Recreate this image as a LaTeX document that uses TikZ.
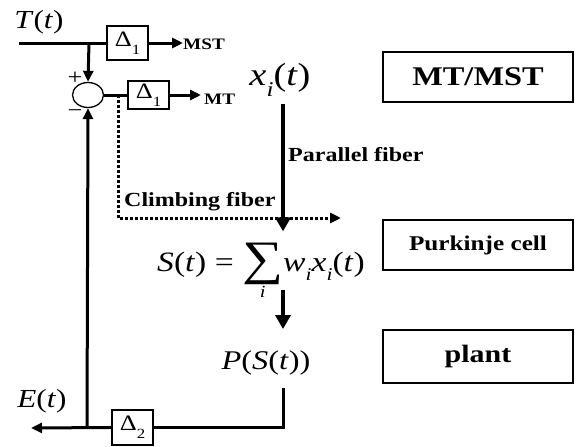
\documentclass[tikz,border=0pt]{standalone}
\usepackage{fontspec}
\setmainfont{Liberation Serif}[FakeStretch=1.2]
\usetikzlibrary{arrows.meta,shapes.geometric}
\newcommand\setfs[1]{\fontsize{#1}{#1}\selectfont}
\newcommand\lowsub[2]{\raisebox{-0.35em}{\setfs{#1}#2}}

\begin{document}
\begin{tikzpicture}[x=1pt, y=-1pt,
    sig/.style={line width=3pt},
    fiber/.style={line width=4.6pt},
    dots/.style={line width=3pt, dash pattern=on 2.6pt off 2.4pt},
    tip/.style={-{Triangle[length=11pt,width=10pt]}},
    bigtip/.style={-{Triangle[length=14pt,width=15pt]}},
    dbox/.style={draw, line width=1.3pt, minimum width=41pt, inner sep=0pt, font=\setfs{22}},
    unitbox/.style={draw, line width=1.3pt, minimum width=190pt, minimum height=50pt, inner sep=0pt, font=\bfseries},
    lbl/.style={inner sep=0pt, font=\bfseries\setfs{20}},
    mathlbl/.style={inner sep=0pt}
]
    \useasboundingbox (0,0) rectangle (579,447);
    % loop: input, comparison and delays
    \node[mathlbl, font=\setfs{26}] (T) at (39,22) {\textit{T}(\textit{t})};
    \coordinate (tin) at (19,43);
    \coordinate (tb) at (89,43);
    \node[ellipse, draw, line width=1.3pt, minimum width=31pt, minimum height=25pt, inner sep=0pt] (sumj) at (88,95) {};
    \node[inner sep=0pt, font=\setfs{22}] (plus) at (75,78) {+};
    \node[inner sep=0pt, font=\setfs{22}] (minus) at (75,114) {−};
    \node[dbox, minimum height=34pt] (d1a) at (127.5,43) {Δ\lowsub{14}{1}};
    \node[lbl, font=\bfseries\setfs{16}, anchor=west] (mst) at (183,44) {MST};
    \node[dbox, minimum height=28pt] (d1b) at (148.5,95) {Δ\lowsub{14}{1}};
    \node[lbl, font=\bfseries\setfs{16}, anchor=west] (mt) at (204,99) {MT};
    \coordinate (cf) at (118,95);
    \coordinate (cfend) at (341,218);
    % cerebellum
    \node[mathlbl, font=\setfs{32}] (xi) at (280,80) {\textit{x}\lowsub{21}{\itshape i}(\textit{t})};
    \node[lbl, anchor=base west] (pf) at (288,161) {Parallel fiber};
    \node[lbl, anchor=base west] (cfl) at (124,206) {Climbing fiber};
    \node[mathlbl, font=\setfs{28}, anchor=base west] (seq) at (157,271)
        {\textit{S}(\textit{t}) = $\mathop{\raisebox{-3pt}{\setfs{48}∑}}\limits_{\hbox{\setfs{17}\itshape i}}$\textit{w}\lowsub{18}{\itshape i}\textit{x}\lowsub{18}{\itshape i}(\textit{t})};
    \coordinate (pkout) at (283,290);
    \node[mathlbl, font=\setfs{27}, anchor=base] (P) at (266,369) {\textit{P}(\textit{S}(\textit{t}))};
    % feedback
    \node[mathlbl, font=\setfs{26}] (E) at (42,401) {\textit{E}(\textit{t})};
    \node[dbox, minimum height=35pt] (d2) at (132.5,427.5) {Δ\lowsub{14}{2}};
    \coordinate (eout) at (31,428);
    \coordinate (fb) at (87,428);
    % blocks on the right
    \node[unitbox, font=\bfseries\setfs{27}] (mtmst) at (478,77) {MT/MST};
    \node[unitbox, font=\bfseries\setfs{21}] (purk) at (478,245) {Purkinje cell};
    \node[unitbox, minimum height=53pt, font=\bfseries\setfs{25}] (plant) at (478,356.5) {plant};

    \draw[sig] (tin) -- (d1a.west);
    \draw[sig, tip] (tb) -- (sumj.north);
    \draw[sig, tip] (d1a.east) -- (d1a.east -| mst.west);
    \draw[sig] (sumj.east) -- (d1b.west);
    \draw[sig, tip] (d1b.east) -- ([xshift=-3pt]d1b.east -| mt.west);
    \draw[dots, tip] (cf) |- (cfend);
    \draw[fiber, bigtip, shorten <=7pt, shorten >=11pt] (xi.south -| pkout) -- (seq.north -| pkout);
    \draw[fiber, bigtip, shorten >=21pt] (pkout) -- (P.north -| pkout);
    \draw[sig, shorten <=13pt] (P.south -| pkout) |- (d2.east);
    \draw[sig, tip] (d2.west) -- (eout);
    \draw[sig, tip] (fb) -- (sumj.south);
\end{tikzpicture}
\end{document}
